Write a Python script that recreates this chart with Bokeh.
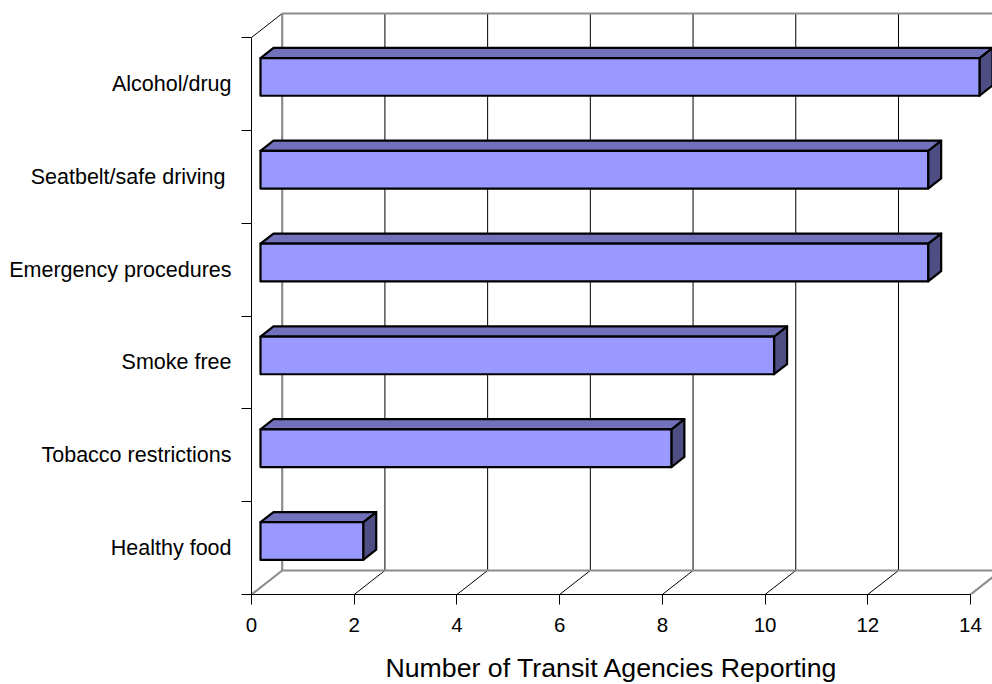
from bokeh.plotting import figure
from bokeh.models import Range1d, LinearAxis, FixedTicker, Title
from bokeh.embed import file_html
from bokeh.resources import INLINE

# ---- data (bottom to top) ----
categories = ["Healthy food", "Tobacco restrictions", "Smoke free",
              "Emergency procedures", "Seatbelt/safe driving ", "Alcohol/drug"]
values = [2, 8, 10, 13, 13, 14]
x_ticks = [0, 2, 4, 6, 8, 10, 12, 14]
x_max = 14
x_title = "Number of Transit Agencies Reporting"

# ---- geometry / style ----
FONT = "Liberation Sans"
LEFT = 251
FRAME_W = 992 - LEFT
FRAME_H = 594
PX_X = 719 / 14.0          # px per x unit
PX_Y = 557 / 6.0           # px per category band
DX = 30.7 / PX_X           # depth offset (data units)
DY = 24.0 / PX_Y
F1, F2 = 0.293, 0.717      # bar depth fractions
HALF = 0.203               # half bar thickness (band units)
n = len(categories)

p = figure(frame_width=FRAME_W, frame_height=FRAME_H,
           x_range=Range1d(0, FRAME_W / PX_X), y_range=Range1d(0, FRAME_H / PX_Y),
           output_backend="svg", toolbar_location=None,
           x_axis_location=None, y_axis_location=None,
           min_border_left=LEFT, min_border_top=0, min_border_right=0, min_border_bottom=0)
p.outline_line_color = None
p.xgrid.visible = False
p.ygrid.visible = False
p.background_fill_color = "white"
p.border_fill_color = "white"

GRAY = "#8c8c8c"
# back wall interior gridlines (black, thin)
inner = [t for t in x_ticks if 0 < t < x_max]
p.segment(x0=[t + DX for t in inner], y0=[DY] * len(inner),
          x1=[t + DX for t in inner], y1=[n + DY] * len(inner),
          line_color="black", line_width=1)
# floor diagonals (interior, black)
p.segment(x0=inner, y0=[0] * len(inner), x1=[t + DX for t in inner], y1=[DY] * len(inner),
          line_color="black", line_width=1)
# top-left diagonal
p.segment(x0=[0], y0=[n], x1=[DX], y1=[n + DY], line_color="black", line_width=1)
# gray wall edges
p.segment(x0=[0, DX, DX, DX, x_max],
          y0=[0, DY, DY, n + DY, 0],
          x1=[DX, DX, x_max + DX, x_max + DX, x_max + DX],
          y1=[DY, n + DY, DY, n + DY, DY],
          line_color=GRAY, line_width=2.2)

# ---- bars ----
tx, ty, sx, sy = [], [], [], []
qb, qt, ql, qr = [], [], [], []
for i, v in enumerate(values):
    yc = i + 0.5
    b1 = yc - HALF + F1 * DY
    t1 = yc + HALF + F1 * DY
    b2 = yc - HALF + F2 * DY
    t2 = yc + HALF + F2 * DY
    l1 = F1 * DX
    r1 = v + F1 * DX
    l2 = F2 * DX
    r2 = v + F2 * DX
    qb.append(b1); qt.append(t1); ql.append(l1); qr.append(r1)
    tx.append([l1, r1, r2, l2]); ty.append([t1, t1, t2, t2])
    sx.append([r1, r1, r2, r2]); sy.append([b1, t1, t2, b2])

p.patches(xs=sx, ys=sy, fill_color="#4e4e85", line_color="black", line_width=2.2, line_join="round")
p.patches(xs=tx, ys=ty, fill_color="#7272bc", line_color="black", line_width=2.2, line_join="round")
p.quad(left=ql, right=qr, bottom=qb, top=qt, fill_color="#9999ff", line_color="black", line_width=2.2,
       line_join="round")

# ---- axes ----
yax = LinearAxis(ticker=FixedTicker(ticks=[i + 0.5 for i in range(n)],
                                    minor_ticks=list(range(n + 1))),
                 bounds=(0, n))
yax.major_label_overrides = {i + 0.5: c for i, c in enumerate(categories)}
yax.major_tick_line_color = None
yax.major_tick_out = 0
yax.major_tick_in = 0
yax.minor_tick_line_color = "black"
yax.minor_tick_out = 10
yax.minor_tick_in = 0
yax.axis_line_color = "black"
yax.major_label_text_font = FONT
yax.major_label_text_font_size = "21.5px"
yax.major_label_text_color = "black"
yax.major_label_standoff = 10
p.add_layout(yax, "left")

xax = LinearAxis(ticker=FixedTicker(ticks=x_ticks, minor_ticks=[]), bounds=(0, x_max))
xax.major_tick_out = 10
xax.major_tick_in = 0
xax.minor_tick_line_color = None
xax.axis_line_color = "black"
xax.major_tick_line_color = "black"
xax.major_label_text_font = FONT
xax.major_label_text_font_size = "20.5px"
xax.major_label_text_color = "black"
xax.major_label_standoff = 13
p.add_layout(xax, "below")

title = Title(text=x_title, align="left", offset=134, text_font=FONT,
              text_font_size="26.7px", text_font_style="normal", text_color="black",
              standoff=33)
p.add_layout(title, "below")

open("out.html", "w").write(file_html(p, INLINE))
